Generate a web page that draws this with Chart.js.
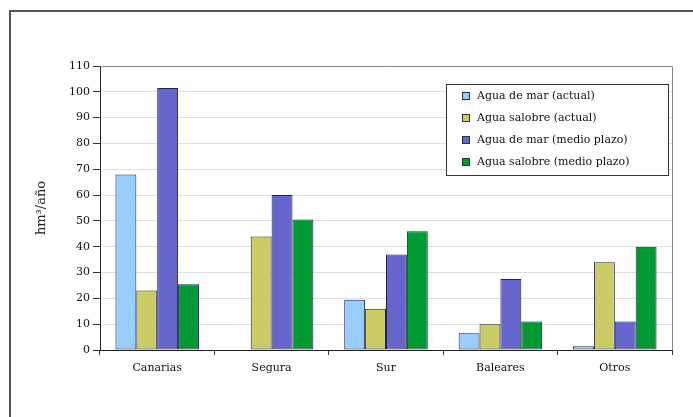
<!DOCTYPE html>
<html>
<head>
<meta charset="utf-8">
<script src="https://cdn.jsdelivr.net/npm/chart.js@4"></script>
<style>
html,body{margin:0;padding:0;background:#fff;}
#wrap{width:693px;height:417px;position:relative;}
</style>
</head>
<body>
<div id="wrap"><canvas id="desalChart" width="693" height="417"></canvas></div>
<script>
const regiones = ['Canarias','Segura','Sur','Baleares','Otros']
const marActual = [68,0,19.5,6.5,1.5]
const salobreActual = [23,44,16,10,34]
const marMedio = [101.5,60,37,27.5,11]
const salobreMedio = [25.5,50.5,46,11,40]
const yTicks = [0,10,20,30,40,50,60,70,80,90,100,110]

const serif = "'DejaVu Serif', serif"

// frame, top/right plot lines and boxed legend
const extras = {
id:'extras',
beforeDraw(chart){
const c = chart.ctx
c.save()
c.strokeStyle = '#555'
c.lineWidth = 2
c.strokeRect(10,11,700,420)
c.restore()
},
afterDraw(chart){
const c = chart.ctx
const a = chart.chartArea
c.save()
c.strokeStyle = '#888'
c.lineWidth = 1
c.beginPath()
c.moveTo(a.left, a.top+0.5)
c.lineTo(a.right+0.5, a.top+0.5)
c.lineTo(a.right+0.5, a.bottom)
c.stroke()

// legend box
const bx = 446, by = 84, bw = 222, bh = 91
c.fillStyle = '#fff'
c.fillRect(bx,by,bw,bh)
c.strokeStyle = '#333'
c.strokeRect(bx+0.5,by+0.5,bw,bh)
c.font = '11px ' + serif
c.textBaseline = 'middle'
chart.data.datasets.forEach((ds,i)=>{
const y = by + 12 + i*22
c.fillStyle = ds.backgroundColor
c.fillRect(bx+16, y-3.5, 7, 7)
c.strokeStyle = '#333'
c.strokeRect(bx+16.5, y-3.5, 7, 7)
c.fillStyle = '#111'
c.fillText(ds.label, bx+31, y)
})
c.restore()
}
}

new Chart(document.getElementById('desalChart'),{
type:'bar',
data:{
labels:regiones,
datasets:[{
label:'Agua de mar (actual)',
data:marActual,
backgroundColor:'#99ccff'
},
{
label:'Agua salobre (actual)',
data:salobreActual,
backgroundColor:'#cccc66'
},
{
label:'Agua de mar (medio plazo)',
data:marMedio,
backgroundColor:'#6666cc'
},
{
label:'Agua salobre (medio plazo)',
data:salobreMedio,
backgroundColor:'#009933'
}]
},
options:{
responsive:false,
animation:false,
devicePixelRatio:1,
layout:{padding:{top:66,right:21,left:0,bottom:0}},
datasets:{
bar:{
barPercentage:1,
categoryPercentage:0.73,
borderColor:'#222244',
borderWidth:1,
borderSkipped:false
}
},
plugins:{
legend:{display:false},
tooltip:{enabled:false}
},
scales:{
x:{
afterFit(s){s.height = 67},
grid:{
offset:true,
drawOnChartArea:false,
tickLength:5,
tickColor:'#333'
},
border:{color:'#222',width:1},
ticks:{
color:'#111',
padding:7,
font:{family:serif,size:11}
}
},
y:{
min:0,
max:110,
afterFit(s){s.width = 100},
afterBuildTicks(s){s.ticks = yTicks.map(v=>({value:v}))},
grid:{
color:'#dddddd',
tickLength:7,
tickColor:'#333'
},
border:{color:'#222',width:1},
ticks:{
color:'#111',
padding:3,
font:{family:serif,size:11}
},
title:{
display:true,
text:'hm³/año',
color:'#222',
padding:{top:34},
font:{family:serif,size:13}
}
}
}
},
plugins:[extras]
})
</script>
</body>
</html>
